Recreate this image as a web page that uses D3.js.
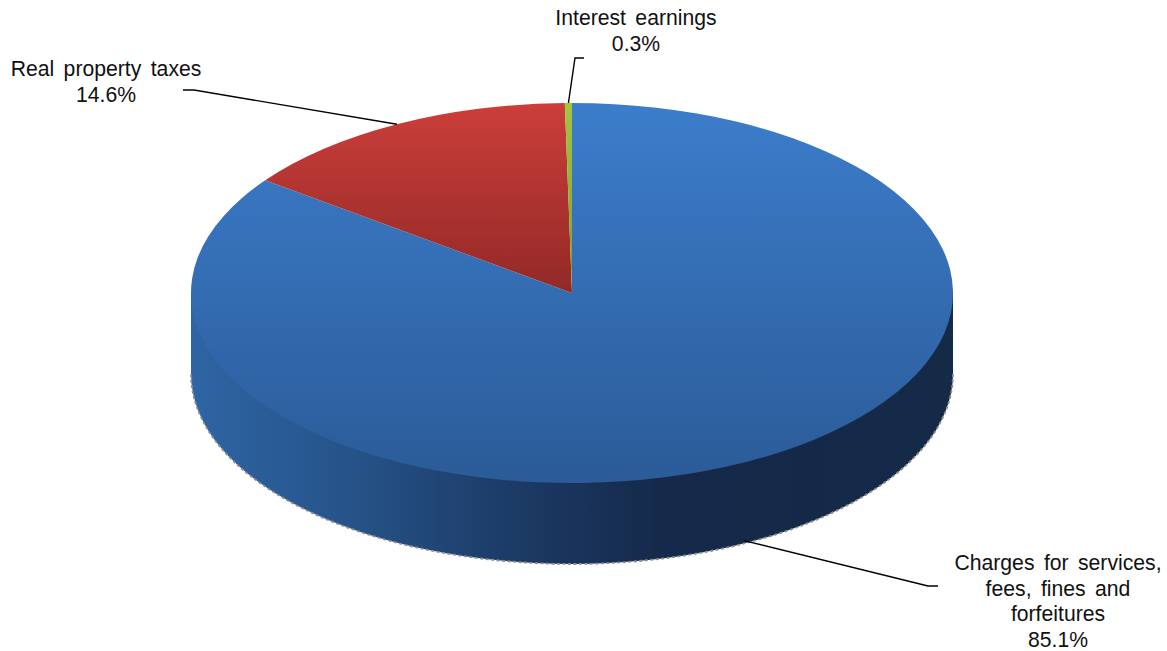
<!DOCTYPE html>
<html>
<head>
<meta charset="utf-8">
<script src="https://cdn.jsdelivr.net/npm/d3@7"></script>
<style>
  html, body { margin: 0; padding: 0; background: #fff; }
  text { font-family: "Liberation Sans", Arial, sans-serif; font-size: 21.2px; fill: #111; word-spacing: 3.5px; }
</style>
</head>
<body>
<svg id="chart" width="1167" height="651"></svg>
<script>
// Revenue shares, listed clockwise from twelve o'clock
const categories = ["Charges for services, fees, fines and forfeitures", "Real property taxes", "Interest earnings"];
const shares = [85.1, 14.6, 0.3];
const labelLines = [
  ["Charges for services,", "fees, fines and", "forfeitures", "85.1%"],
  ["Real property taxes", "14.6%"],
  ["Interest earnings", "0.3%"]
];

const cx = 572, cy = 293, rx = 381, ry = 190, depth = 81;

const svg = d3.select("#chart");
const defs = svg.append("defs");

// Lit top face: each colour darkens downward across the disc.
// Gradient coordinates live in the squashed group's space, hence the rx / ry factor.
const squash = rx / ry;
const topGradients = [
  { id: "topBlue", from: "#3c7dcb", to: "#2b5b98", y1: -ry, y2: ry },
  { id: "topRed", from: "#cc3e3a", to: "#922927", y1: -ry, y2: 0 },
  { id: "topGreen", from: "#a3c63e", to: "#7f9a30", y1: -ry, y2: 0 }
];
topGradients.forEach(t => {
  const g = defs.append("linearGradient").attr("id", t.id)
    .attr("gradientUnits", "userSpaceOnUse")
    .attr("x1", 0).attr("x2", 0)
    .attr("y1", t.y1 * squash).attr("y2", t.y2 * squash);
  g.append("stop").attr("offset", 0).attr("stop-color", t.from);
  g.append("stop").attr("offset", 1).attr("stop-color", t.to);
});

// Rim shading runs left to right, falling into shadow past the middle
const wall = defs.append("linearGradient").attr("id", "wallShade")
  .attr("gradientUnits", "userSpaceOnUse")
  .attr("x1", cx - rx).attr("x2", cx + rx).attr("y1", 0).attr("y2", 0);
[[0, "#2e65a4"], [0.2, "#26548a"], [0.42, "#1c3b66"], [0.62, "#15294a"], [1, "#142a47"]]
  .forEach(([o, c]) => wall.append("stop").attr("offset", o).attr("stop-color", c));

// Rim of the disc: a band reaching under the top face so no seam shows
const rimPath = `M${cx - rx},${cy} L${cx + rx},${cy} L${cx + rx},${cy + depth} A${rx},${ry} 0 0 1 ${cx - rx},${cy + depth} Z`;
svg.append("path").attr("d", rimPath).attr("fill", "url(#wallShade)");

// Speckled lower edge of the rim
svg.append("path")
  .attr("d", `M${cx + rx},${cy + depth} A${rx},${ry} 0 0 1 ${cx - rx},${cy + depth}`)
  .attr("fill", "none").attr("stroke", "#8b8f94").attr("stroke-width", 1.8)
  .attr("stroke-dasharray", "3 2.5");

// Top face: circular pie squashed into an ellipse
const pie = d3.pie().sort(null).value(d => d);
const arcs = pie(shares);
const arc = d3.arc().innerRadius(0).outerRadius(rx);
svg.append("g").attr("transform", `translate(${cx},${cy}) scale(1,${ry / rx})`)
  .selectAll("path").data(arcs).join("path")
  .attr("d", arc)
  .attr("fill", (d, i) => `url(#${topGradients[i].id})`);

// Anchor on the outer edge at a slice's middle angle; front-facing slices anchor on the rim
function edgePoint(d) {
  const a = (d.startAngle + d.endAngle) / 2;
  const x = cx + rx * Math.sin(a);
  const y = cy - ry * Math.cos(a);
  return [x, Math.cos(a) < 0 ? y + depth - 3 : y];
}

// Leader elbows and label placement, one per slice
const leaders = [
  { elbow: [928, 586], end: [938, 586], labelX: 1058, labelY: 570 },
  { elbow: [194, 90], end: [183, 90], labelX: 106, labelY: 76 },
  { elbow: [575, 58], end: [584, 58], labelX: 636, labelY: 25 }
];
const lineGen = d3.line();
svg.selectAll("path.leader").data(arcs).join("path")
  .attr("class", "leader")
  .attr("d", (d, i) => lineGen([edgePoint(d), leaders[i].elbow, leaders[i].end]))
  .attr("fill", "none").attr("stroke", "#000").attr("stroke-width", 1.4);

// Labels
const lineHeight = 25.5;
svg.selectAll("text.label").data(labelLines).join("text")
  .attr("class", "label")
  .attr("text-anchor", "middle")
  .each(function (lines, i) {
    d3.select(this).selectAll("tspan").data(lines).join("tspan")
      .attr("x", leaders[i].labelX)
      .attr("y", (l, j) => leaders[i].labelY + j * lineHeight)
      .text(l => l);
  });
</script>
</body>
</html>
